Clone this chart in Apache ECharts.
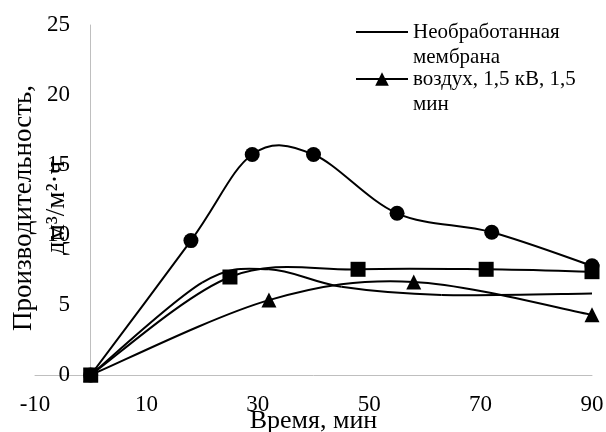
<!DOCTYPE html>
<html>
<head>
<meta charset="utf-8">
<script src="https://cdn.jsdelivr.net/npm/echarts@6/dist/echarts.min.js"></script>
<style>
html,body{margin:0;padding:0;background:#fff;}
#chart{width:606px;height:432px;}
</style>
</head>
<body>
<div id="chart"></div>
<script>
// ---- data ----
const seriesNames = ['Необработанная мембрана', 'воздух, 1,5 кВ, 1,5 мин', 'Ряд 3', 'Ряд 4'];
const plainTime = [0, 20, 32, 45, 63, 90];
const plainValue = [0, 6.6, 7.55, 6.3, 5.72, 5.82];
const triTime = [0, 32, 58, 90];
const triValue = [0, 5.35, 6.65, 4.3];
const circleTime = [0, 18, 29, 40, 55, 72, 90];
const circleValue = [0, 9.6, 15.75, 15.75, 11.55, 10.2, 7.8];
const squareTime = [0, 25, 48, 71, 90];
const squareValue = [0, 7.0, 7.55, 7.55, 7.38];
const xTicks = [-10, 10, 30, 50, 70, 90];
const yTicks = [0, 5, 10, 15, 20, 25];
const xTitle = 'Время, мин';
const yTitle = 'Производительность,\nдм³/м²·ч';
const legendWrapped = {
  'Необработанная мембрана': '\nНеобработанная\nмембрана',
  'воздух, 1,5 кВ, 1,5 мин': '\nвоздух, 1,5 кВ, 1,5\nмин'
};

const FONT = '"Liberation Serif", "Times New Roman", serif';

function pairs(xs, ys) { return xs.map((x, i) => [x, ys[i]]); }

// Smooth curve (Catmull-Rom style, like the spreadsheet's smoothed line) drawn through the axis scales
function curveSeries(xs, ys, id) {
  return {
    type: 'custom',
    id: id,
    silent: true,
    z: 1,
    clip: true,
    data: pairs(xs, ys),
    encode: { x: 0, y: 1 },
    renderItem: function (params, api) {
      const i = params.dataIndex;
      const n = xs.length;
      if (i >= n - 1) return null;
      const c = k => { k = Math.max(0, Math.min(n - 1, k)); return api.coord([xs[k], ys[k]]); };
      const p0 = c(i - 1), p1 = c(i), p2 = c(i + 1), p3 = c(i + 2);
      return {
        type: 'bezierCurve',
        shape: {
          x1: p1[0], y1: p1[1], x2: p2[0], y2: p2[1],
          cpx1: p1[0] + (p2[0] - p0[0]) / 6, cpy1: p1[1] + (p2[1] - p0[1]) / 6,
          cpx2: p2[0] - (p3[0] - p1[0]) / 6, cpy2: p2[1] - (p3[1] - p1[1]) / 6
        },
        style: { fill: 'none', stroke: '#000', lineWidth: 2 }
      };
    }
  };
}

function markerSeries(name, xs, ys, symbol, size, extra) {
  return Object.assign({
    type: 'line',
    name: name,
    z: 3,
    data: pairs(xs, ys),
    symbol: symbol,
    symbolSize: size,
    showSymbol: symbol !== 'none',
    lineStyle: { opacity: 0 },
    itemStyle: { color: '#000' },
    emphasis: { disabled: true }
  }, extra || {});
}

const legendCommon = {
  orient: 'vertical',
  left: 355,
  padding: 0,
  itemWidth: 52,
  itemHeight: 17,
  itemGap: 0,
  selectedMode: false,
  lineStyle: { color: '#000', width: 2, opacity: 1 },
  textStyle: { fontFamily: FONT, fontSize: 21, lineHeight: 25, color: '#000' },
  formatter: name => legendWrapped[name] || name
};

const chart = echarts.init(document.getElementById('chart'), null, { renderer: 'canvas' });
chart.setOption({
  animation: false,
  backgroundColor: '#fff',
  textStyle: { fontFamily: FONT },
  grid: { left: 35, right: 14, top: 25, bottom: 57, containLabel: false, outerBoundsMode: 'none' },
  legend: [
    Object.assign({}, legendCommon, { top: 32 - 37.5, data: [seriesNames[0]] }),
    Object.assign({}, legendCommon, { top: 79 - 37.5, data: [seriesNames[1]] })
  ],
  xAxis: {
    type: 'value',
    min: xTicks[0],
    max: xTicks[xTicks.length - 1],
    interval: xTicks[1] - xTicks[0],
    name: xTitle,
    nameLocation: 'middle',
    nameGap: 33,
    nameMoveOverlap: false,
    nameTextStyle: { fontFamily: FONT, fontSize: 26, color: '#000' },
    axisLine: { show: true, onZero: true, lineStyle: { color: '#bfbfbf', width: 1 } },
    axisTick: { show: false },
    splitLine: { show: false },
    axisLabel: { fontFamily: FONT, fontSize: 23, color: '#000', margin: 18, showMinLabel: true, showMaxLabel: true }
  },
  yAxis: {
    type: 'value',
    min: yTicks[0],
    max: yTicks[yTicks.length - 1],
    interval: yTicks[1] - yTicks[0],
    name: yTitle,
    nameLocation: 'middle',
    nameGap: -38,
    nameMoveOverlap: false,
    nameTextStyle: { fontFamily: FONT, fontSize: 27, lineHeight: 33, color: '#000', padding: [0, 16, 0, 0] },
    axisLine: { show: true, onZero: true, lineStyle: { color: '#bfbfbf', width: 1 } },
    axisTick: { show: false },
    splitLine: { show: false },
    axisLabel: { fontFamily: FONT, fontSize: 23, color: '#000', margin: -35 }
  },
  series: [
    curveSeries(plainTime, plainValue, 'c0'),
    curveSeries(triTime, triValue, 'c1'),
    curveSeries(circleTime, circleValue, 'c2'),
    curveSeries(squareTime, squareValue, 'c3'),
    markerSeries(seriesNames[0], plainTime, plainValue, 'none', 0, { itemStyle: { color: '#000', opacity: 0 } }),
    markerSeries(seriesNames[1], triTime, triValue, 'triangle', 15),
    markerSeries(seriesNames[2], circleTime, circleValue, 'circle', 15),
    markerSeries(seriesNames[3], squareTime, squareValue, 'rect', 15)
  ]
});
</script>
</body>
</html>
